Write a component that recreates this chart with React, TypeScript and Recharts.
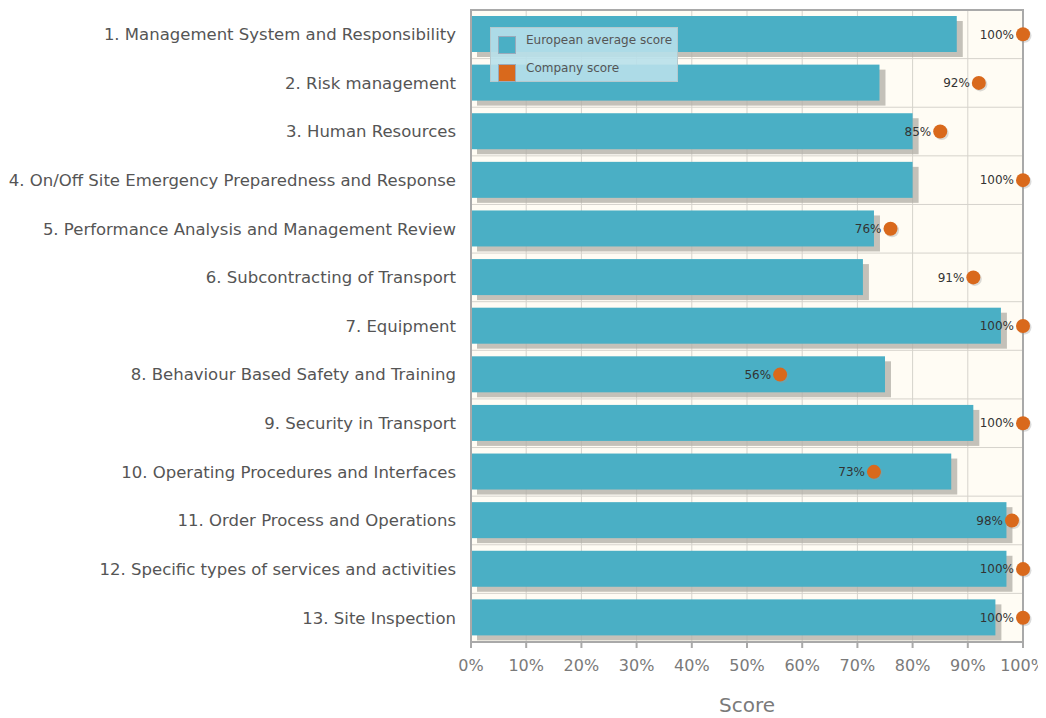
import React from 'react';
import {
  ComposedChart,
  Bar,
  Line,
  XAxis,
  YAxis,
  CartesianGrid,
  ReferenceArea,
} from 'recharts';

// categorias e valores
const categories = [
  '1. Management System and Responsibility',
  '2. Risk management',
  '3. Human Resources',
  '4. On/Off Site Emergency Preparedness and Response',
  '5. Performance Analysis and Management Review',
  '6. Subcontracting of Transport',
  '7. Equipment',
  '8. Behaviour Based Safety and Training',
  '9. Security in Transport',
  '10. Operating Procedures and Interfaces',
  '11. Order Process and Operations',
  '12. Specific types of services and activities',
  '13. Site Inspection',
];
const europeanAverage = [88, 74, 80, 80, 73, 71, 96, 75, 91, 87, 97, 97, 95];
const companyScore = [100, 92, 85, 100, 76, 91, 100, 56, 100, 73, 98, 100, 100];
const xTicks = [0, 10, 20, 30, 40, 50, 60, 70, 80, 90, 100];
const legendItems = ['European average score', 'Company score'];

const COLORS = {
  bar: '#4AAFC5',
  dot: '#D9691C',
  shadow: '#B0ADA6',
  grid: '#D6D3CC',
  frame: '#A9A9A9',
  plotBg: '#FFFCF4',
  text: '#555555',
  tick: '#7A7A7A',
};

const FONT = '"DejaVu Sans", sans-serif';

const data = categories.map((name, i) => ({
  name,
  avg: europeanAverage[i],
  company: companyScore[i],
}));

// barra com sombra cinza
const ShadowBar = (props: any) => {
  const { x, y, width, height } = props;
  if (!width || width <= 0) return null;
  return (
    <g>
      <rect x={x + 6} y={y + 5} width={width} height={height} fill={COLORS.shadow} opacity={0.75} />
      <rect x={x} y={y} width={width} height={height} fill={COLORS.bar} />
    </g>
  );
};

const CompanyDot = (props: any) => {
  const { cx, cy, value, index } = props;
  if (cx == null || cy == null) return null;
  return (
    <g key={`dot-${index}`}>
      <circle cx={cx + 1.5} cy={cy + 1.5} r={7} fill="#999" opacity={0.35} />
      <circle cx={cx} cy={cy} r={7} fill={COLORS.dot} />
      <text x={cx - 9} y={cy} dy="0.35em" textAnchor="end" fontSize={12} fill="#333" fontFamily={FONT}>
        {`${value}%`}
      </text>
    </g>
  );
};

// legenda sobreposta no canto superior esquerdo da área do gráfico
const LegendBox = () => (
  <div
    style={{
      position: 'absolute',
      left: 482,
      top: 19,
      background: 'rgba(184, 224, 234, 0.9)',
      border: '1px solid #B5C9CE',
      width: 188,
      height: 55,
      padding: '6px 0 0 7px',
      boxSizing: 'border-box',
      fontFamily: FONT,
      fontSize: 12,
      color: COLORS.text,
    }}
  >
    {legendItems.map((label, i) => (
      <div key={label} style={{ display: 'flex', alignItems: 'flex-start', height: 28 }}>
        <span
          style={{
            display: 'inline-block',
            width: 16,
            height: 16,
            marginTop: 2,
            background: i === 0 ? COLORS.bar : COLORS.dot,
            border: '1px solid #9ab',
            marginRight: 10,
          }}
        />
        <span style={{ lineHeight: '12px' }}>{label}</span>
      </div>
    ))}
  </div>
);

export default function App() {
  return (
    <div style={{ width: 1038, height: 710, position: 'relative' }}>
      <ComposedChart
        width={1038}
        height={710}
        data={data}
        layout="vertical"
        margin={{ top: 2, right: 23, left: 0, bottom: 0 }}
        barSize={36}
      >
        <CartesianGrid
          stroke={COLORS.grid}
          fill={COLORS.plotBg}
          horizontalCoordinatesGenerator={({ offset }: any) =>
            categories.map((_, i) => offset.top + ((i + 1) * offset.height) / categories.length)
          }
        />
        <XAxis
          type="number"
          domain={[0, 100]}
          ticks={xTicks}
          tickFormatter={(v) => `${v}%`}
          stroke={COLORS.frame}
          strokeWidth={2}
          tickSize={6}
          tickMargin={12}
          height={76}
          tick={{ fill: COLORS.tick, fontSize: 16, fontFamily: FONT }}
          label={{
            value: 'Score',
            position: 'insideBottom',
            offset: 6,
            fill: COLORS.tick,
            fontSize: 20,
            fontFamily: FONT,
          }}
        />
        <YAxis
          type="category"
          dataKey="name"
          width={463}
          stroke={COLORS.frame}
          strokeWidth={2}
          tickLine={false}
          tickSize={6}
          tickMargin={9}
          interval={0}
          tick={{ fill: COLORS.text, fontSize: 16.5, fontFamily: FONT }}
        />
        <ReferenceArea x1={0} x2={100} fill="none" stroke={COLORS.frame} strokeWidth={2} ifOverflow="extendDomain" />
        <Bar dataKey="avg" name="European average score" shape={<ShadowBar />} isAnimationActive={false} />
        <Line
          dataKey="company"
          name="Company score"
          stroke="none"
          dot={<CompanyDot />}
          activeDot={false}
          isAnimationActive={false}
        />
      </ComposedChart>
      <LegendBox />
    </div>
  );
}
